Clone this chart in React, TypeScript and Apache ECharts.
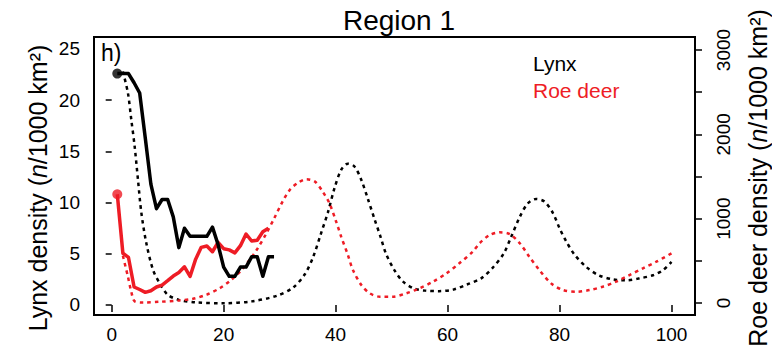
import React, { useEffect, useRef } from "react";
import * as echarts from "echarts";

// Observed series (years 1..29 / 1..28)
const lynxYears = [1, 2, 3, 4, 5, 6, 7, 8, 9, 10, 11, 12, 13, 14, 15, 16, 17, 18, 19, 20, 21, 22, 23, 24, 25, 26, 27, 28, 29];
const lynxObs = [22.6, 22.6, 22.6, 21.7, 20.7, 16.3, 11.8, 9.4, 10.3, 10.3, 8.6, 5.6, 7.5, 6.7, 6.7, 6.7, 6.7, 7.6, 5.9, 3.7, 2.8, 2.8, 3.7, 3.7, 4.7, 4.7, 2.8, 4.7, 4.7];

const deerYears = [1, 2, 3, 4, 5, 6, 7, 8, 9, 10, 11, 12, 13, 14, 15, 16, 17, 18, 19, 20, 21, 22, 23, 24, 25, 26, 27, 28];
const deerObs = [1290, 590, 540, 190, 160, 127, 146, 190, 213, 265, 320, 362, 430, 315, 520, 660, 676, 608, 720, 644, 630, 595, 680, 818, 735, 745, 845, 886];

// Model (dotted) curves
const lynxModelX = [2, 2.9, 3.5, 4.1, 4.7, 5.3, 6.2, 7.4, 8.6, 10, 12, 15, 20, 25, 29.5, 32.4, 34.5, 36, 37.4, 38.6, 39.8, 41, 42.2, 43.4, 44.6, 45.8, 47, 48, 49, 50.5, 52, 54, 56, 58.5, 61, 63.5, 66, 68, 70, 71.4, 72.9, 74.3, 75.8, 77.3, 78.8, 80, 81.2, 82.7, 84.8, 87, 89.5, 92, 94.3, 96.7, 98.5, 100];
const lynxModelY = [22.8, 20.7, 18.1, 15.5, 12.2, 9.0, 6.0, 3.4, 2.1, 1.0, 0.5, 0.25, 0.17, 0.35, 0.9, 1.7, 3.0, 4.7, 7.0, 9.0, 11.4, 13.2, 13.8, 13.5, 12.2, 10.3, 8.3, 6.7, 5.0, 3.4, 2.3, 1.6, 1.4, 1.35, 1.5, 2.0, 2.6, 3.6, 5.0, 6.7, 8.6, 9.9, 10.35, 10.1, 9.0, 7.5, 6.2, 4.9, 3.7, 2.9, 2.5, 2.4, 2.6, 2.9, 3.4, 4.2];

const deerModelX = [2, 2.9, 3.5, 4.1, 5.6, 8.6, 12, 14.5, 17, 19.3, 21.1, 22.9, 24.5, 26, 27.5, 29, 30.5, 31.8, 33.3, 34.8, 36.3, 37.7, 38.9, 40.1, 41, 42.2, 43.1, 44.6, 46.1, 47.9, 50.2, 52.6, 55, 57.4, 59.8, 62.1, 64.5, 65.7, 67.5, 69.3, 71.1, 72.9, 74.6, 76.4, 78.5, 80.6, 83, 85.4, 87.7, 90.1, 92.5, 94.9, 97.3, 100];
const deerModelY = [560, 312, 134, 20, 5, 15, 30, 50, 100, 175, 260, 370, 500, 640, 810, 1000, 1200, 1340, 1427, 1467, 1440, 1320, 1182, 964, 786, 569, 391, 213, 115, 75, 75, 115, 174, 253, 352, 471, 608, 708, 806, 838, 818, 708, 549, 391, 233, 154, 134, 154, 193, 253, 332, 411, 490, 589];

const xTicks = [0, 20, 40, 60, 80, 100];
const leftTicks = [0, 5, 10, 15, 20, 25];
const rightTicks = [0, 500, 1000, 1500, 2000, 2500, 3000];
const rightLabels = [0, 1000, 2000, 3000];

const FONT = "Liberation Sans, Arial, Helvetica, sans-serif";
const RED = "#ee1c25";

const zip = (xs: number[], ys: number[]) => xs.map((x, i) => [x, ys[i]]);

export default function App() {
  const ref = useRef<HTMLDivElement>(null);
  useEffect(() => {
    if (!ref.current) return;
    const chart = echarts.init(ref.current, undefined, { renderer: "svg" });
    const dotted = { type: [3.5, 4] as number[], width: 2.5 };
    const richItalic = { i: { fontSize: 25, fontStyle: "italic", fill: "#000", fontFamily: FONT } };
    chart.setOption({
      animation: false,
      backgroundColor: "#fff",
      textStyle: { fontFamily: FONT },
      title: {
        text: "Region 1",
        left: 394,
        top: 1,
        textAlign: "center",
        textStyle: { fontSize: 28, fontWeight: "normal", color: "#000", fontFamily: FONT },
      },
      grid: {
        left: 94,
        right: 77,
        top: 37,
        bottom: 39,
        show: true,
        borderColor: "#000",
        borderWidth: 2,
        backgroundColor: "transparent",
      },
      xAxis: {
        type: "value",
        min: -3.16,
        max: 104.2,
        axisLine: { show: false },
        splitLine: { show: false },
        axisTick: { show: true, customValues: xTicks, length: 7, lineStyle: { color: "#000", width: 1.5 } },
        axisLabel: { customValues: xTicks, color: "#000", fontSize: 19, margin: 10, fontFamily: FONT, formatter: (v: number) => String(v) },
      },
      yAxis: [
        {
          type: "value",
          position: "left",
          min: -0.98,
          max: 26.17,
          axisLine: { show: false },
          splitLine: { show: false },
          axisTick: { show: true, customValues: leftTicks, length: 6, lineStyle: { color: "#000", width: 1.5 } },
          axisLabel: { customValues: leftTicks, color: "#000", fontSize: 19, margin: 14, fontFamily: FONT, formatter: (v: number) => String(v) },
        },
        {
          type: "value",
          position: "right",
          min: -142,
          max: 3154,
          axisLine: { show: false },
          splitLine: { show: false },
          axisTick: { show: true, customValues: rightTicks, length: 7, lineStyle: { color: "#000", width: 1.5 } },
          axisLabel: { customValues: rightLabels, color: "#000", fontSize: 19, margin: 19, rotate: 90, fontFamily: FONT, formatter: (v: number) => String(v) },
        },
      ],
      graphic: [
        { type: "text", left: 101, top: 41, style: { text: "h)", fontSize: 23, fill: "#000", fontFamily: FONT } },
        { type: "text", left: 533, top: 53, style: { text: "Lynx", fontSize: 21, fill: "#000", fontFamily: FONT } },
        { type: "text", left: 533, top: 80, style: { text: "Roe deer", fontSize: 21, fill: RED, fontFamily: FONT } },
        {
          type: "text",
          x: 38,
          y: 188,
          rotation: Math.PI / 2,
          style: {
            text: "Lynx density ({i|n}/1000 km²)",
            fontSize: 25,
            fill: "#000",
            fontFamily: FONT,
            align: "center",
            verticalAlign: "middle",
            rich: richItalic,
          },
        },
        {
          type: "text",
          x: 758,
          y: 178,
          rotation: Math.PI / 2,
          style: {
            text: "Roe deer density ({i|n}/1000 km²)",
            fontSize: 25,
            fill: "#000",
            fontFamily: FONT,
            align: "center",
            verticalAlign: "middle",
            rich: richItalic,
          },
        },
      ],
      series: [
        {
          name: "Lynx model",
          type: "line",
          yAxisIndex: 0,
          data: zip(lynxModelX, lynxModelY),
          smooth: 0.3,
          symbol: "none",
          lineStyle: { color: "#000", ...dotted },
          z: 2,
        },
        {
          name: "Roe deer model",
          type: "line",
          yAxisIndex: 1,
          data: zip(deerModelX, deerModelY),
          smooth: 0.3,
          symbol: "none",
          lineStyle: { color: RED, ...dotted },
          z: 2,
        },
        {
          name: "Roe deer",
          type: "line",
          yAxisIndex: 1,
          data: zip(deerYears, deerObs),
          symbol: "none",
          lineStyle: { color: RED, width: 3.5, join: "round" },
          z: 3,
        },
        {
          name: "Lynx",
          type: "line",
          yAxisIndex: 0,
          data: zip(lynxYears, lynxObs),
          symbol: "none",
          lineStyle: { color: "#000", width: 3.5, join: "round" },
          z: 4,
        },
        {
          name: "Lynx start",
          type: "scatter",
          yAxisIndex: 0,
          data: [[lynxYears[0], lynxObs[0]]],
          symbolSize: 10,
          itemStyle: { color: "#000" },
          z: 5,
        },
        {
          name: "Roe deer start",
          type: "scatter",
          yAxisIndex: 1,
          data: [[deerYears[0], deerObs[0]]],
          symbolSize: 10,
          itemStyle: { color: RED },
          z: 5,
        },
      ],
    });
    return () => chart.dispose();
  }, []);
  return <div ref={ref} style={{ width: 772, height: 354, position: "absolute", left: 0, top: 0 }} />;
}
